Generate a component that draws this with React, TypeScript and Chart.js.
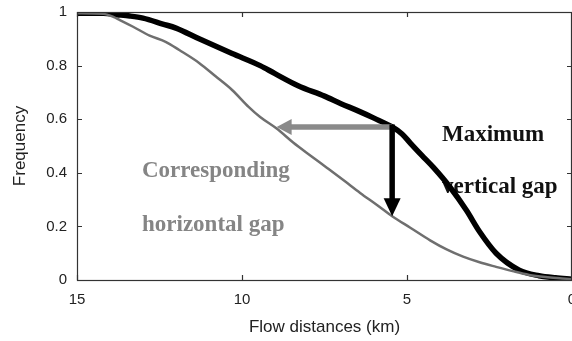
import { useEffect, useRef } from "react";
import { Chart, registerables } from "chart.js";

Chart.register(...registerables);

// Axis ticks
const X_TICKS = [15, 10, 5, 0];
const Y_TICKS = [0, 0.2, 0.4, 0.6, 0.8, 1];

// Thick black cumulative curve (flow distance in km, frequency)
const BLACK_KM = [15, 14.2, 13.8, 13.4, 13.0, 12.4, 12.0, 11.3, 10.3, 9.45, 9.0, 8.3, 7.5, 7.0, 6.5, 6.0, 5.45, 5.15, 4.9, 4.55, 4.2, 3.7, 3.2, 2.8, 2.3, 1.6, 1.0, 0.5, 0];
const BLACK_FREQ = [0.995, 0.995, 0.99, 0.985, 0.977, 0.955, 0.94, 0.9, 0.845, 0.8, 0.77, 0.725, 0.686, 0.658, 0.632, 0.604, 0.571, 0.545, 0.511, 0.465, 0.42, 0.347, 0.26, 0.18, 0.1, 0.037, 0.016, 0.008, 0.003];

// Thin grey cumulative curve
const GREY_KM = [15, 14.2, 13.9, 13.7, 13.3, 12.8, 12.3, 11.9, 11.3, 10.8, 10.3, 9.8, 9.45, 8.95, 8.45, 7.9, 7.42, 6.9, 6.42, 5.9, 5.45, 4.9, 4.3, 3.8, 3.3, 2.8, 2.3, 1.8, 1.3, 0.8, 0.3, 0];
const GREY_FREQ = [0.995, 0.993, 0.982, 0.97, 0.945, 0.912, 0.888, 0.858, 0.81, 0.76, 0.709, 0.646, 0.608, 0.565, 0.513, 0.462, 0.418, 0.37, 0.325, 0.279, 0.238, 0.195, 0.148, 0.114, 0.087, 0.066, 0.049, 0.033, 0.019, 0.011, 0.006, 0.003];

// Gap markers
const GAP_KM = 5.45;
const GAP_UPPER = 0.571;
const GAP_LOWER = 0.238;
const HORIZONTAL_GAP_END_KM = 8.95;

// Annotation texts (anchor: km, frequency at baseline)
const BLACK_LABELS = [
  { text: "Maximum", km: 3.94, freq: 0.519 },
  { text: "vertical gap", km: 3.94, freq: 0.325 },
];
const GREY_LABELS = [
  { text: "Corresponding", km: 13.03, freq: 0.384 },
  { text: "horizontal gap", km: 13.03, freq: 0.183 },
];

const toPoints = (xs: number[], ys: number[]) => xs.map((x, i) => ({ x, y: ys[i] }));

function drawArrow(
  ctx: CanvasRenderingContext2D,
  x0: number, y0: number, x1: number, y1: number,
  shaft: number, headLen: number, headHalf: number, color: string
) {
  const dx = x1 - x0, dy = y1 - y0;
  const len = Math.hypot(dx, dy);
  const ux = dx / len, uy = dy / len;
  const bx = x1 - ux * headLen, by = y1 - uy * headLen;
  ctx.save();
  ctx.strokeStyle = color;
  ctx.fillStyle = color;
  ctx.lineWidth = shaft;
  ctx.lineCap = "butt";
  ctx.beginPath();
  ctx.moveTo(x0, y0);
  ctx.lineTo(bx + ux, by + uy);
  ctx.stroke();
  ctx.beginPath();
  ctx.moveTo(x1, y1);
  ctx.lineTo(bx - uy * headHalf, by + ux * headHalf);
  ctx.lineTo(bx + uy * headHalf, by - ux * headHalf);
  ctx.closePath();
  ctx.fill();
  ctx.restore();
}

const gapPlugin = {
  id: "gapAnnotations",
  beforeDatasetsDraw(chart: any) {
    const { ctx, scales } = chart;
    const x = scales.x, y = scales.y;
    ctx.save();
    ctx.font = "bold 23px 'Liberation Serif', 'Times New Roman', serif";
    ctx.textAlign = "left";
    ctx.textBaseline = "alphabetic";
    ctx.fillStyle = "#111";
    BLACK_LABELS.forEach((l) => ctx.fillText(l.text, x.getPixelForValue(l.km), y.getPixelForValue(l.freq)));
    ctx.fillStyle = "#858585";
    GREY_LABELS.forEach((l) => ctx.fillText(l.text, x.getPixelForValue(l.km), y.getPixelForValue(l.freq)));
    ctx.restore();
  },
  afterDatasetsDraw(chart: any) {
    const { ctx, scales } = chart;
    const x = scales.x, y = scales.y;
    const gx = x.getPixelForValue(GAP_KM);
    const gy = y.getPixelForValue(GAP_UPPER);
    drawArrow(ctx, gx, gy, x.getPixelForValue(HORIZONTAL_GAP_END_KM), gy, 5.5, 15, 8, "#8a8a8a");
    drawArrow(ctx, gx, gy - 2.5, gx, y.getPixelForValue(GAP_LOWER), 5.5, 18, 8.5, "#000");
  },
  afterDraw(chart: any) {
    const { ctx, chartArea, scales } = chart;
    const { left, right, top, bottom } = chartArea;
    const tick = 5;
    ctx.save();
    ctx.strokeStyle = "#333";
    ctx.lineWidth = 1.2;
    ctx.strokeRect(left + 0.5, top + 0.5, right - left - 1, bottom - top);
    ctx.beginPath();
    X_TICKS.forEach((v) => {
      const px = Math.round(scales.x.getPixelForValue(v)) + 0.5;
      ctx.moveTo(px, bottom);
      ctx.lineTo(px, bottom - tick);
      ctx.moveTo(px, top);
      ctx.lineTo(px, top + tick);
    });
    Y_TICKS.forEach((v) => {
      const py = Math.round(scales.y.getPixelForValue(v)) + 0.5;
      ctx.moveTo(left, py);
      ctx.lineTo(left + tick, py);
      ctx.moveTo(right, py);
      ctx.lineTo(right - tick, py);
    });
    ctx.stroke();
    ctx.restore();
  },
};

export default function App() {
  const canvasRef = useRef<HTMLCanvasElement>(null);

  useEffect(() => {
    const canvas = canvasRef.current;
    if (!canvas) return;
    const sansFont = "'Liberation Sans', Arial, Helvetica, sans-serif";
    const chart = new Chart(canvas, {
      type: "line",
      data: {
        datasets: [
          {
            label: "grey",
            data: toPoints(GREY_KM, GREY_FREQ),
            borderColor: "#6f6f6f",
            borderWidth: 2.5,
            pointRadius: 0,
            cubicInterpolationMode: "monotone",
            clip: 0,
          },
          {
            label: "black",
            data: toPoints(BLACK_KM, BLACK_FREQ),
            borderColor: "#000",
            borderWidth: 5.5,
            pointRadius: 0,
            cubicInterpolationMode: "monotone",
            clip: 0,
          },
        ],
      },
      options: {
        responsive: false,
        animation: false,
        devicePixelRatio: 1,
        layout: { padding: { top: 12, right: 18, left: 0, bottom: 0 } },
        plugins: { legend: { display: false }, tooltip: { enabled: false } },
        scales: {
          x: {
            type: "linear",
            min: 0,
            max: 15,
            reverse: true,
            grid: { display: false },
            border: { display: false },
            afterBuildTicks: (s: any) => {
              s.ticks = X_TICKS.map((v) => ({ value: v }));
            },
            afterFit: (s: any) => {
              s.height = 61;
            },
            ticks: {
              color: "#222",
              padding: 3,
              maxRotation: 0,
              autoSkip: false,
              font: { family: sansFont, size: 15 },
              callback: (v: any) => String(Number(Number(v).toFixed(1))),
            },
            title: {
              display: true,
              text: "Flow distances (km)",
              color: "#222",
              font: { family: sansFont, size: 17 },
              padding: { top: 0, bottom: 3 },
            },
          },
          y: {
            type: "linear",
            min: 0,
            max: 1,
            grid: { display: false },
            border: { display: false },
            afterBuildTicks: (s: any) => {
              s.ticks = Y_TICKS.map((v) => ({ value: v }));
            },
            afterFit: (s: any) => {
              s.width = 77;
            },
            ticks: {
              color: "#222",
              padding: 2,
              autoSkip: false,
              font: { family: sansFont, size: 15 },
              callback: (v: any) => String(Number(Number(v).toFixed(1))),
            },
            title: {
              display: true,
              text: "Frequency",
              color: "#222",
              font: { family: sansFont, size: 17 },
              padding: { top: 10, bottom: 0 },
            },
          },
        },
      },
      plugins: [gapPlugin],
    });
    return () => chart.destroy();
  }, []);

  return (
    <div
      style={{
        position: "fixed",
        left: 0,
        top: 0,
        width: 572,
        height: 341,
        overflow: "hidden",
        background: "#fff",
      }}
    >
      <canvas ref={canvasRef} width={590} height={341} style={{ display: "block" }} />
    </div>
  );
}
